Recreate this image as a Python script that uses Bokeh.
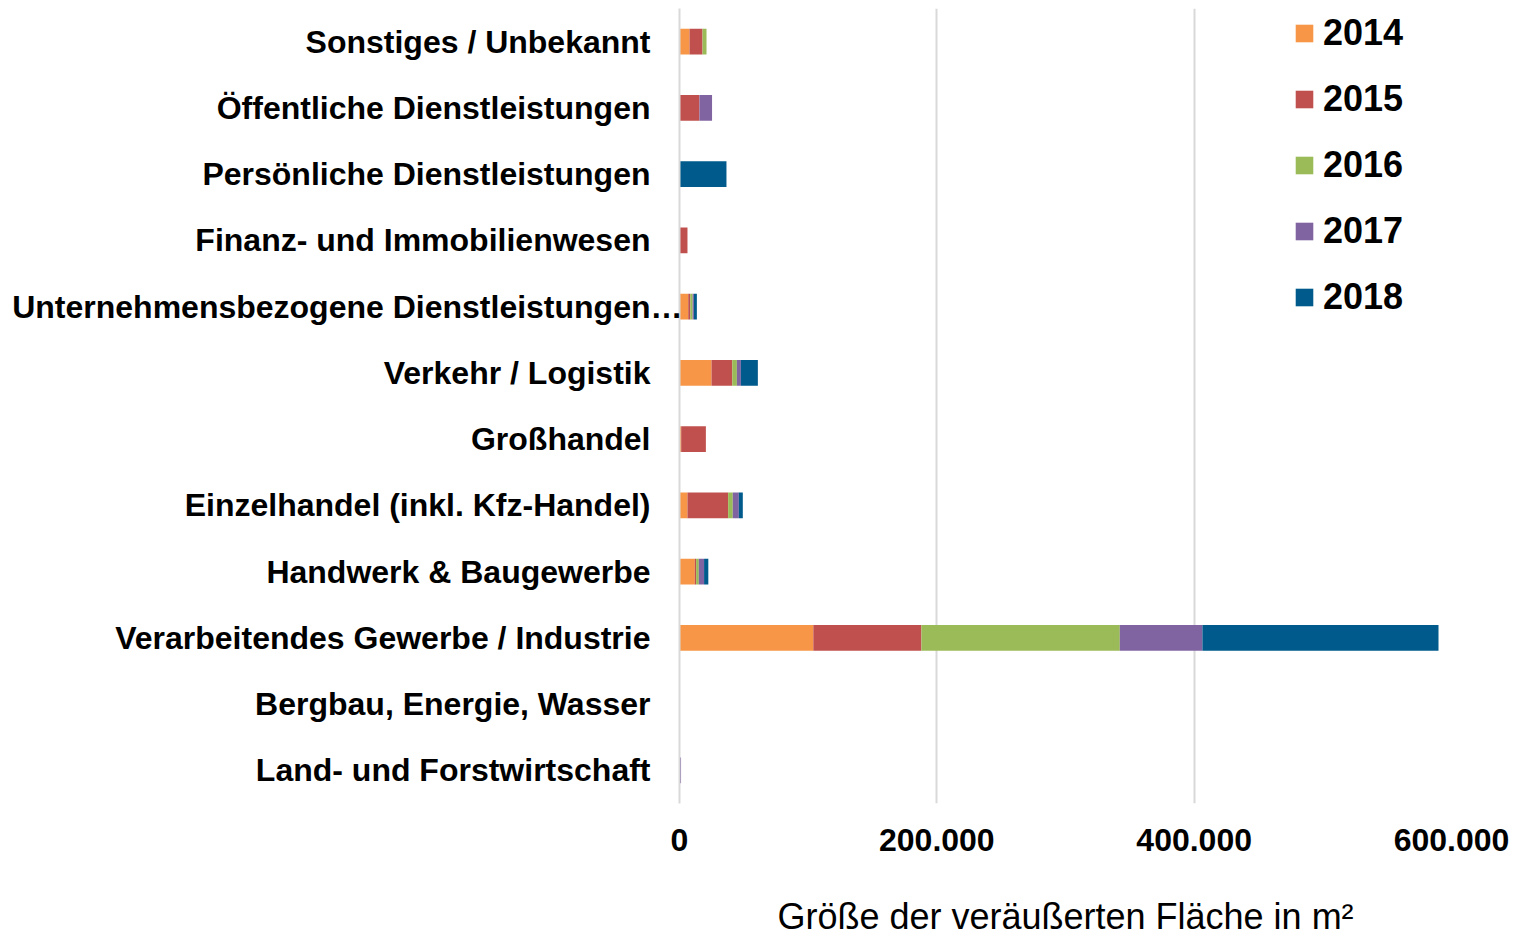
from bokeh.plotting import figure
from bokeh.models import Range1d, FixedTicker, LinearAxis, ColumnDataSource
from bokeh.embed import file_html
from bokeh.resources import INLINE

# Categories from bottom to top
categories = [
    "Land- und Forstwirtschaft",
    "Bergbau, Energie, Wasser",
    "Verarbeitendes Gewerbe / Industrie",
    "Handwerk & Baugewerbe",
    "Einzelhandel (inkl. Kfz-Handel)",
    "Großhandel",
    "Verkehr / Logistik",
    "Unternehmensbezogene Dienstleistungen…",
    "Finanz- und Immobilienwesen",
    "Persönliche Dienstleistungen",
    "Öffentliche Dienstleistungen",
    "Sonstiges / Unbekannt",
]
years = ["2014", "2015", "2016", "2017", "2018"]
v2014 = [0, 0, 104000, 11900, 6200, 1300, 24900, 6800, 0, 0, 0, 7800]
v2015 = [0, 0, 84000, 1000, 31600, 19200, 16100, 1600, 6200, 0, 15500, 10100]
v2016 = [0, 0, 154200, 2100, 3600, 0, 3600, 1800, 0, 0, 0, 3100]
v2017 = [1200, 0, 64200, 4100, 4700, 0, 3100, 1000, 0, 0, 9800, 0]
v2018 = [0, 0, 183500, 3300, 3100, 0, 13200, 2300, 0, 36500, 0, 0]
colors = ["#F79646", "#C0504D", "#9BBB59", "#8064A2", "#005A8C"]
tick_values = [0, 200000, 400000, 600000]
tick_labels = ["0", "200.000", "400.000", "600.000"]
x_label = "Größe der veräußerten Fläche in m²"
long_label = "Unternehmensbezogene Dienstleistungen…"

FONT = "Liberation Sans"

ypos = [i + 0.5 for i in range(len(categories))]
source = ColumnDataSource(dict(y=ypos, **{"2014": v2014, "2015": v2015,
                                          "2016": v2016, "2017": v2017,
                                          "2018": v2018}))

p = figure(frame_width=772, frame_height=795, output_backend="svg",
           toolbar_location=None,
           y_range=Range1d(0, len(categories)), x_range=Range1d(0, 600000),
           min_border_left=679, min_border_right=60, min_border_top=8,
           min_border_bottom=132)

p.hbar_stack(years, y="y", height=0.39, color=colors, line_color=None,
             source=source, legend_label=years)

p.outline_line_color = None
p.ygrid.grid_line_color = None
p.xgrid.grid_line_color = "#d9d9d9"
p.xgrid.grid_line_width = 2
p.xaxis.ticker = FixedTicker(ticks=tick_values)
p.xaxis.major_label_overrides = {t: l for t, l in zip(tick_values, tick_labels)}
p.xaxis.axis_line_color = None
p.xaxis.major_tick_line_color = None
p.xaxis.minor_tick_line_color = None
p.xaxis.major_tick_out = 0
p.xaxis.major_label_standoff = 25
p.xaxis.major_label_text_font = FONT
p.xaxis.major_label_text_font_style = "bold"
p.xaxis.major_label_text_font_size = "32px"
p.xaxis.major_label_text_color = "black"
p.xaxis.axis_label = x_label
p.xaxis.axis_label_text_font = FONT
p.xaxis.axis_label_text_font_style = "normal"
p.xaxis.axis_label_text_font_size = "36px"
p.xaxis.axis_label_text_color = "black"
p.xaxis.axis_label_standoff = 42

# main category axis (all labels except the long, overflowing one)
short = [(y, c) for y, c in zip(ypos, categories) if c != long_label]
p.yaxis.ticker = FixedTicker(ticks=[y for y, _ in short])
p.yaxis.major_label_overrides = {y: c for y, c in short}
p.yaxis.axis_line_color = "#d9d9d9"
p.yaxis.axis_line_width = 2
p.yaxis.major_tick_line_color = None
p.yaxis.minor_tick_line_color = None
p.yaxis.major_tick_out = 0
p.yaxis.major_label_standoff = 29
p.yaxis.major_label_text_font = FONT
p.yaxis.major_label_text_font_style = "bold"
p.yaxis.major_label_text_font_size = "32px"
p.yaxis.major_label_text_color = "black"

# second axis carrying the long label that runs up to the plot edge
ly = ypos[categories.index(long_label)]
ax2 = LinearAxis(ticker=FixedTicker(ticks=[ly]), major_label_overrides={ly: long_label},
                 major_label_standoff=-570, axis_line_color=None,
                 major_tick_line_color=None, minor_tick_line_color=None,
                 major_tick_out=0, major_tick_in=0,
                 major_label_text_font=FONT, major_label_text_font_style="bold",
                 major_label_text_font_size="32px", major_label_text_color="black")
p.add_layout(ax2, "left")

lg = p.legend[0]
lg.location = (614, 485)
lg.border_line_color = None
lg.background_fill_alpha = 0
lg.padding = 0
lg.margin = 0
lg.glyph_width = 22
lg.glyph_height = 22
lg.label_height = 40
lg.spacing = 24
lg.label_standoff = 8
lg.label_text_font = FONT
lg.label_text_font_style = "bold"
lg.label_text_font_size = "36px"
lg.label_text_color = "black"

open("out.html", "w").write(file_html(p, INLINE))
